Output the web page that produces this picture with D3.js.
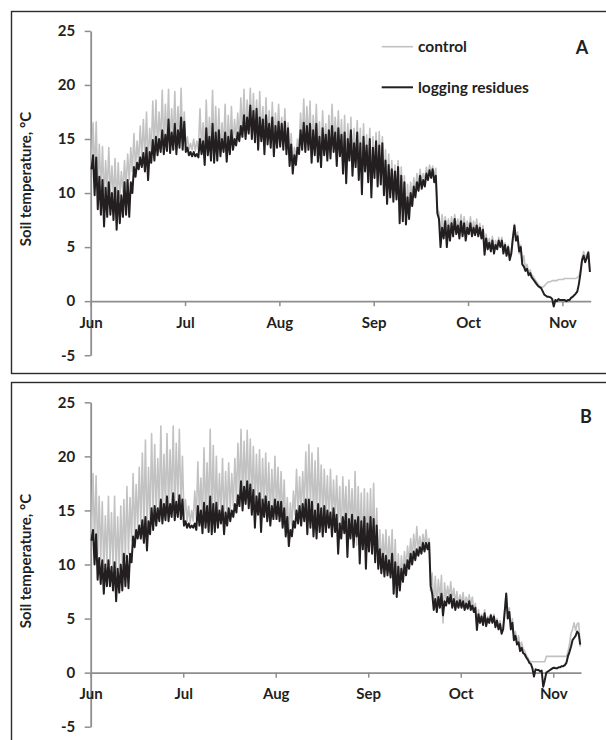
<!DOCTYPE html>
<html><head><meta charset="utf-8">
<script src="https://cdn.jsdelivr.net/npm/d3@7"></script>
<style>
html,body{margin:0;padding:0;background:#fff;}
svg{display:block;}
</style></head>
<body>
<svg id="chart" width="606" height="740"></svg>
<script>
// Month tick labels and their day offsets
const monthLabels = ["Jun","Jul","Aug","Sep","Oct","Nov"];
const monthDays = [0,30,60,90,120,150];
const yTicks = [-5,0,5,10,15,20,25];
const seriesNames = ["control","logging residues"];

// Readings twice a day (morning low, afternoon high), days 0..158 from 1 June
const controlA = [
12.5,16.5, 11.5,16.6, 10.5,14.5, 10.2,14.3, 9.5,13.0, 10.0,14.2, 9.8,12.5, 9.4,13.2, 9.0,12.8, 9.5,12.0,
10.0,13.0, 10.5,13.6, 11.2,14.2, 12.0,15.5, 12.2,14.8, 12.8,16.2, 13.2,16.8, 13.0,17.5, 12.5,16.0, 13.8,18.5,
14.0,18.6, 14.2,17.5, 14.5,19.5, 14.0,18.2, 14.6,19.6, 14.2,17.8, 14.8,19.4, 14.2,18.0, 15.0,19.7, 14.5,17.5,
14.2,15.2, 14.0,14.6, 14.0,15.0, 13.9,14.8, 14.0,17.8, 14.2,16.5, 13.6,18.6, 14.0,17.0, 14.2,19.5, 13.8,18.0,
13.5,17.8, 13.8,16.5, 14.2,18.2, 13.4,17.2, 14.0,18.0, 14.3,16.8, 14.8,17.4, 15.0,18.8, 15.5,19.6, 15.2,18.6,
15.8,19.7, 15.5,19.2, 15.2,18.6, 15.0,19.4, 15.0,18.0, 14.6,18.8, 15.0,17.6, 14.8,18.4, 14.4,17.4, 14.8,18.2,
14.8,17.0, 14.5,17.8, 14.0,16.5, 13.0,15.5, 12.5,14.2, 13.2,15.0, 14.2,17.4, 14.5,18.7, 14.6,18.0, 14.8,18.5,
13.5,17.2, 14.5,18.2, 13.8,16.6, 13.2,17.6, 14.0,16.4, 13.5,17.2, 14.2,18.2, 14.6,17.0, 14.2,17.6, 13.8,16.8,
12.6,17.2, 11.6,16.4, 13.6,17.0, 12.4,16.0, 13.0,16.7, 12.0,16.0, 10.8,16.4, 12.6,15.4, 11.8,16.0, 10.4,15.2,
12.0,15.6, 11.4,15.7, 11.6,15.2, 10.6,14.0, 9.8,13.6, 10.4,13.0, 10.0,12.6, 10.2,13.0, 8.0,12.4, 8.2,11.6,
7.8,10.8, 8.4,11.0, 9.4,11.4, 10.2,11.8, 10.8,12.2, 11.0,11.8, 11.2,12.4, 11.6,12.6, 11.8,12.5, 11.6,12.3,
8.4,8.2, 5.8,8.0, 6.4,7.8, 6.2,7.6, 6.4,7.8, 6.6,8.0, 6.8,7.6, 6.6,8.0, 6.6,7.8, 6.4,7.4,
6.6,7.8, 6.4,7.4, 6.5,7.6, 6.3,7.2, 6.0,7.0, 4.6,6.2, 5.0,5.8, 4.9,6.0, 4.6,5.6, 5.0,5.9,
5.2,5.9, 4.6,5.4, 4.4,5.2, 4.0,4.6, 6.0,7.1, 5.6,6.4, 4.4,5.2, 3.6,4.2, 3.0,3.4, 2.6,2.9,
2.4,2.3, 2.0,1.8, 1.6,1.4, 1.3,1.3, 1.4,1.6, 1.7,1.8, 1.8,1.9, 1.9,1.9, 1.9,2.0, 2.0,2.0,
2.0,2.1, 2.1,2.1, 2.1,2.1, 2.1,2.1, 2.1,2.2, 2.3,2.9, 4.0,4.6, 4.0,4.3, 4.6,2.85
];
const residuesA = [
12.2,13.5, 9.8,13.3, 8.5,11.5, 8.0,11.2, 6.9,10.5, 7.8,11.0, 8.0,10.0, 7.5,10.5, 6.6,10.2, 7.2,9.8,
7.8,11.0, 8.0,11.2, 7.8,11.0, 10.0,12.4, 11.5,12.8, 12.2,13.3, 12.4,13.7, 12.0,14.2, 11.2,13.8, 12.8,14.9,
13.0,15.2, 13.5,15.0, 13.8,15.8, 13.6,15.4, 13.9,16.8, 13.7,15.6, 14.0,16.4, 13.6,15.8, 14.2,17.0, 14.0,16.6,
13.8,14.2, 13.5,13.8, 13.4,13.8, 13.4,13.6, 13.3,15.0, 13.6,14.8, 12.6,16.0, 13.5,15.2, 13.0,16.4, 12.8,15.6,
13.0,15.8, 13.4,15.0, 13.8,15.6, 12.9,15.2, 13.6,15.8, 14.0,15.0, 14.4,15.6, 14.8,16.2, 15.2,17.2, 15.0,17.0,
15.5,18.1, 15.0,17.6, 14.7,17.8, 14.0,17.0, 14.8,16.8, 13.6,17.2, 14.5,16.4, 14.2,17.0, 13.4,16.2, 14.2,16.6,
14.3,16.4, 14.0,16.6, 13.6,16.0, 12.5,14.5, 11.8,13.5, 12.6,14.2, 13.6,15.8, 14.0,16.5, 13.8,16.2, 14.0,16.4,
12.8,15.8, 13.5,16.4, 12.9,15.2, 12.4,16.0, 13.5,15.4, 13.0,15.8, 13.2,16.2, 13.8,15.6, 12.5,16.0, 13.4,15.4,
11.8,15.6, 10.9,15.0, 13.0,15.8, 11.6,14.6, 12.4,15.6, 11.2,14.6, 9.9,15.2, 12.0,14.4, 11.0,15.0, 9.6,14.2,
11.4,14.8, 10.6,14.4, 10.8,14.6, 9.8,13.0, 9.0,12.6, 9.6,12.2, 9.2,12.0, 9.4,12.4, 7.2,11.6, 7.4,11.0,
7.1,9.6, 7.6,10.0, 8.8,10.6, 9.6,11.0, 10.2,11.6, 10.4,11.2, 10.6,11.8, 11.2,12.1, 11.4,12.2, 11.0,11.6,
8.1,7.6, 5.0,6.8, 5.8,7.4, 5.0,7.0, 5.6,7.2, 6.0,7.6, 6.2,7.0, 5.8,7.4, 6.0,7.2, 5.6,6.8,
6.2,7.2, 6.0,6.8, 6.1,7.0, 6.0,6.8, 5.8,6.6, 4.3,5.8, 4.8,5.4, 4.6,5.6, 4.4,5.2, 4.8,5.6,
5.0,5.6, 4.4,5.2, 4.2,5.0, 3.8,4.4, 5.8,7.0, 5.6,6.0, 4.6,5.0, 3.4,3.2, 2.8,3.0, 2.4,2.6,
2.2,2.0, 1.8,1.6, 1.4,1.3, 1.2,0.9, 0.6,0.5, 0.4,0.4, 0.35,0.2, -0.5,0.1, 0.0,0.2, 0.1,0.1,
0.1,0.1, 0.0,0.1, 0.1,0.3, 0.4,0.55, 0.7,0.9, 1.6,2.6, 3.8,4.2, 3.6,4.0, 4.5,2.7
];
const controlB = [
12.8,18.4, 11.8,18.2, 10.8,16.3, 10.5,15.8, 9.5,14.5, 10.0,16.3, 10.0,14.8, 9.6,16.3, 9.2,14.4, 9.6,15.4,
10.2,16.0, 10.6,17.2, 11.0,16.2, 12.2,18.4, 12.6,17.4, 13.2,19.0, 13.6,20.3, 13.4,21.5, 12.8,19.0, 14.0,22.1,
14.6,21.1, 14.8,19.8, 15.2,22.8, 14.6,20.2, 15.4,22.1, 15.0,20.6, 15.6,22.8, 15.0,21.2, 15.8,22.5, 15.2,20.0,
14.4,16.0, 14.0,15.4, 13.8,15.0, 14.0,16.8, 14.2,19.5, 14.6,18.0, 14.0,20.8, 14.4,19.4, 14.6,22.5, 14.2,21.0,
13.8,20.0, 14.2,18.4, 14.8,19.8, 13.8,18.6, 14.6,19.4, 15.0,18.4, 15.4,19.8, 15.8,21.2, 16.4,22.5, 16.0,21.4,
16.6,22.4, 16.2,21.6, 15.8,20.9, 15.4,20.2, 15.6,20.6, 15.0,19.8, 15.4,20.3, 15.0,19.4, 14.6,18.8, 15.0,20.0,
15.0,19.0, 14.6,18.6, 14.2,17.8, 13.4,16.2, 12.6,15.7, 13.6,16.8, 14.6,18.8, 14.6,18.1, 14.8,18.6, 15.2,20.4,
15.0,21.1, 15.4,20.3, 14.4,19.6, 14.0,20.8, 14.8,19.2, 14.2,18.8, 14.6,18.2, 13.8,18.8, 14.4,17.8, 14.0,18.2,
13.6,17.2, 12.4,18.1, 14.0,17.2, 12.8,17.8, 13.6,17.0, 12.6,18.6, 11.8,17.2, 12.4,16.6, 11.6,17.0, 11.2,16.6,
12.0,17.0, 11.8,17.5, 10.8,15.2, 10.2,13.2, 9.8,12.8, 10.2,13.2, 9.6,12.6, 9.8,13.2, 8.6,12.3, 8.0,11.0,
8.2,10.8, 9.0,11.2, 9.6,11.7, 10.2,12.4, 10.6,12.8, 11.0,13.5, 11.2,12.6, 11.4,12.8, 11.6,13.2, 11.6,12.4,
7.6,9.2, 6.0,8.9, 6.2,8.6, 6.8,9.0, 4.6,8.3, 6.8,8.0, 6.9,8.4, 6.8,7.8, 6.5,7.5, 6.2,7.2,
6.4,7.4, 6.2,7.0, 6.4,7.2, 6.2,7.0, 5.8,6.4, 4.2,5.8, 4.8,5.4, 4.6,5.8, 4.4,5.2, 4.6,5.4,
4.8,5.4, 4.4,5.0, 4.2,4.8, 3.6,4.2, 5.8,7.4, 5.4,6.0, 4.2,5.0, 3.4,3.8, 2.8,3.4, 2.4,2.8,
2.2,2.0, 1.6,1.4, 1.1,1.0, 1.0,1.0, 1.0,1.0, 1.0,1.0, 1.0,1.0, 1.0,1.5, 1.5,1.5, 1.5,1.5,
1.5,1.5, 1.5,1.5, 1.5,1.5, 1.5,1.5, 1.5,1.9, 2.6,3.6, 4.0,4.6, 3.9,4.5, 4.6,2.4
];
const residuesB = [
12.2,13.2, 10.0,12.8, 8.6,10.6, 8.2,10.4, 7.3,10.0, 8.0,10.4, 8.0,9.8, 7.6,10.2, 6.6,9.6, 7.4,10.0,
7.6,11.0, 8.0,10.8, 7.8,11.0, 10.2,12.6, 11.6,13.2, 12.4,13.6, 12.4,14.1, 12.0,14.4, 11.3,14.0, 12.8,15.2,
13.2,15.4, 13.6,15.2, 14.0,16.0, 13.8,15.6, 14.1,16.3, 14.0,15.6, 14.4,16.6, 14.1,15.8, 14.4,16.4, 14.2,16.0,
13.6,14.0, 13.4,13.8, 13.4,13.6, 13.4,13.8, 13.2,15.4, 13.6,15.0, 12.9,15.7, 13.4,15.4, 13.0,16.3, 12.8,15.6,
13.0,15.7, 13.4,15.0, 13.8,15.4, 12.8,14.8, 13.6,15.2, 14.0,15.0, 14.4,15.6, 14.8,16.4, 15.4,17.7, 15.0,17.2,
15.6,17.7, 15.2,17.4, 14.6,16.9, 13.4,16.3, 14.6,16.6, 13.0,16.0, 14.4,16.3, 14.0,15.8, 13.6,15.4, 14.2,16.0,
14.2,15.8, 14.0,15.8, 13.4,15.2, 12.6,14.4, 11.7,13.2, 12.6,14.0, 13.4,15.0, 13.8,15.4, 13.6,15.6, 14.0,16.0,
12.8,16.0, 13.4,15.8, 12.6,15.0, 12.4,15.6, 13.0,15.2, 12.6,15.4, 13.0,15.0, 13.4,14.8, 12.6,15.2, 13.0,14.6,
11.0,13.8, 12.4,14.4, 12.9,14.7, 10.7,14.2, 12.4,14.6, 11.6,14.1, 12.6,14.4, 10.1,14.0, 11.4,14.4, 9.6,13.8,
11.2,14.4, 11.0,14.2, 10.2,13.6, 9.6,11.4, 9.2,11.0, 8.9,10.8, 9.0,10.4, 8.8,11.0, 7.3,10.2, 7.0,9.8,
7.6,9.6, 8.4,10.0, 9.0,10.4, 9.6,11.0, 10.0,11.2, 10.4,11.4, 10.8,11.6, 11.0,12.0, 11.2,12.0, 11.4,12.0,
8.0,7.3, 5.8,6.8, 5.6,7.0, 6.0,7.3, 5.3,6.6, 6.2,7.0, 6.4,7.2, 6.0,6.8, 5.8,6.6, 6.0,6.7,
6.0,6.6, 5.8,6.4, 5.9,6.6, 5.8,6.2, 5.6,6.0, 3.95,5.4, 4.6,5.2, 4.4,5.5, 4.3,5.0, 4.6,5.3,
4.6,5.2, 4.2,4.8, 4.0,4.5, 3.6,4.0, 5.6,7.3, 5.0,5.6, 4.0,4.6, 3.0,3.4, 2.6,2.8, 2.0,2.3,
1.8,1.7, 1.4,1.2, 0.9,0.8, 0.4,-0.37, 0.3,0.25, 0.25,0.1, 0.2,-1.3, -0.7,0.0, 0.1,0.2, 0.3,0.4,
0.45,0.4, 0.4,0.5, 0.5,0.6, 0.6,0.7, 0.9,1.5, 1.9,2.4, 3.0,3.2, 3.4,3.8, 3.6,2.6
];

const svg = d3.select("#chart");
const FONT = "Lato, 'Open Sans', sans-serif";
const TXT = "#231f20";
const AXC = "#8e8e8e";

const panels = [
  {label:"A", control:controlA, residues:residuesA, box:[11.5,11.5], xr:[90.7,590.7], yr:[355.2,30.9],
   lab:[582,54], title:[25,179], legend:true},
  {label:"B", control:controlB, residues:residuesB, box:[11.5,382.5], xr:[90.7,581], yr:[726.7,402.3],
   lab:[586,423], title:[25,561], legend:false}
];

panels.forEach(p => {
  const g = svg.append("g");
  g.append("rect").attr("x",p.box[0]).attr("y",p.box[1]).attr("width",610).attr("height",p.label==="A"?362:380)
    .attr("fill","none").attr("stroke","#2b2b2b").attr("stroke-width",1.4);

  const x = d3.scaleLinear().domain([0,159]).range(p.xr);
  const y = d3.scaleLinear().domain([-5,25]).range(p.yr);

  // y axis
  const ya = g.append("g").attr("transform",`translate(${p.xr[0]},0)`)
    .call(d3.axisLeft(y).tickValues(yTicks).tickFormat(d=>String(d)).tickSize(6).tickSizeOuter(0).tickPadding(9.5));
  // x axis at 0
  const xa = g.append("g").attr("transform",`translate(0,${y(0)})`)
    .call(d3.axisBottom(x).tickValues(monthDays).tickFormat((d,i)=>monthLabels[i]).tickSize(5).tickSizeOuter(0).tickPadding(11));
  [ya,xa].forEach(a=>{
    a.select(".domain").attr("stroke",AXC).attr("stroke-width",1.8);
    a.selectAll(".tick line").attr("stroke",AXC).attr("stroke-width",1.5);
    a.selectAll(".tick text").attr("fill",TXT).style("font-family",FONT).style("font-weight","bold").style("font-size","15px");
  });

  const line = d3.line().x((d,i)=>x(i/2+0.25)).y(d=>y(d));
  g.append("path").datum(p.control).attr("d",line).attr("fill","none")
    .attr("stroke","#c2c2c2").attr("stroke-width",1.6).attr("stroke-linejoin","round");
  g.append("path").datum(p.residues).attr("d",line).attr("fill","none")
    .attr("stroke","#231f20").attr("stroke-width",2).attr("stroke-linejoin","round");

  g.append("text").attr("transform",`translate(${p.title[0]},${p.title[1]}) rotate(-90)`)
    .attr("text-anchor","middle").attr("dominant-baseline","central")
    .style("font-family",FONT).style("font-weight","bold").style("font-size","15px").attr("fill",TXT)
    .text("Soil temperature, °C");

  g.append("text").attr("x",p.lab[0]).attr("y",p.lab[1]).attr("text-anchor","middle")
    .style("font-family",FONT).style("font-weight","bold").style("font-size","18px").attr("fill",TXT)
    .text(p.label);

  if (p.legend) {
    const items = [{name:seriesNames[0], c:"#c2c2c2", w:1.6, y:46.7},{name:seriesNames[1], c:"#231f20", w:2, y:87.3}];
    items.forEach(it=>{
      g.append("line").attr("x1",381.7).attr("x2",413).attr("y1",it.y).attr("y2",it.y)
        .attr("stroke",it.c).attr("stroke-width",it.w);
      g.append("text").attr("x",418).attr("y",it.y+5.5).style("font-family",FONT).style("font-weight","bold")
        .style("font-size","15.5px").attr("fill",TXT).text(it.name);
    });
  }
});
</script>
</body></html>
